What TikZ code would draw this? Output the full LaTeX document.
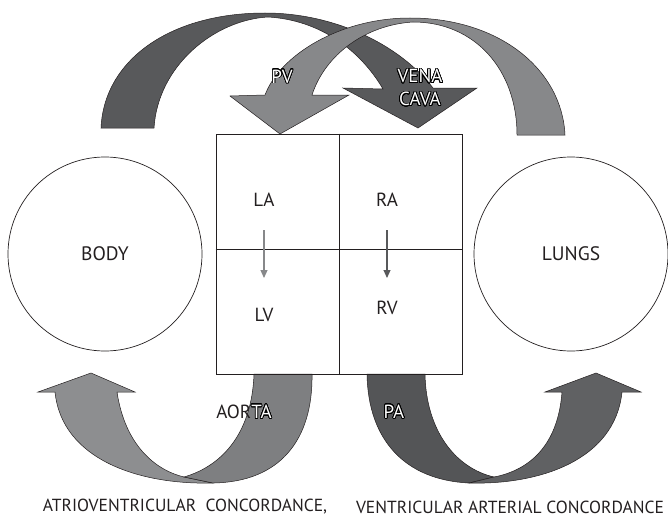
\documentclass[tikz,border=0pt]{standalone}
\usepackage{fontspec}
\setmainfont{PT Sans}
\usepackage{contour}
\contourlength{0.75pt}
\contournumber{32}
\usetikzlibrary{arrows.meta}
\definecolor{inkgrey}{RGB}{35,31,32}
\definecolor{bandDark}{RGB}{88,89,91}
\definecolor{bandLight}{RGB}{135,136,138}
\definecolor{aortaLight}{RGB}{141,142,144}
\definecolor{aortaDark}{RGB}{126,127,129}
\definecolor{paDark}{RGB}{84,85,87}
\definecolor{paLight}{RGB}{96,97,99}
\newcommand{\hollow}[1]{{\color{white}\contour{black}{#1}}}

\begin{document}
\begin{tikzpicture}[x=1pt, y=-1pt,
  organ/.style={circle, draw=inkgrey, line width=0.7pt, minimum size=194pt, text=inkgrey, font=\fontsize{19.5}{21}\selectfont},
  chamber/.style={text=inkgrey, font=\fontsize{19}{21}\selectfont},
  band/.style={draw=inkgrey, line width=0.5pt},
  vessel/.style={text=inkgrey, align=center, font=\fontsize{19}{23}\selectfont},
  flow/.style={line width=1.1pt, -{Triangle[width=7pt,length=8pt]}, shorten <=30pt, shorten >=37pt},
  caption/.style={text=inkgrey, font=\fontsize{17.5}{19}\selectfont}
]
  \useasboundingbox (0,0) rectangle (668,519);

  % venous return over the top
  \path[band, fill=bandDark]
    (101,128) .. controls (104,60) and (170,13) .. (265,13)
    .. controls (335,13) and (400,45) .. (433,88)
    -- (477,88) -- (418,128) -- (343,88) -- (383,89)
    .. controls (360,50) and (320,20) .. (268,17)
    .. controls (215,20) and (158,65) .. (154,128) -- cycle;
  \path[band, fill=bandLight]
    (565,135) .. controls (562,70) and (500,18) .. (410,18)
    .. controls (340,18) and (280,55) .. (265,95)
    -- (230,96) -- (280,134) -- (349,95) -- (312,95)
    .. controls (325,55) and (365,25) .. (413,22)
    .. controls (475,22) and (517,70) .. (517,135) -- cycle;

  % aorta, two halves of the ribbon
  \path[band, fill=aortaLight]
    (55,392) -- (38,392) -- (91,373) -- (135,392) -- (117,392)
    .. controls (125,445) and (155,470) .. (184,477)
    -- (213,483)
    .. controls (140,485) and (62,460) .. (55,392) -- cycle;
  \path[band, fill=aortaDark]
    (254,374) -- (312,374)
    .. controls (313,440) and (280,482) .. (213,483)
    -- (184,477)
    .. controls (225,465) and (252,430) .. (254,374) -- cycle;

  % pulmonary artery
  \path[band, fill=paDark]
    (367,374) -- (425,374)
    .. controls (426,430) and (455,468) .. (494,477)
    -- (469,483)
    .. controls (405,480) and (368,440) .. (367,374) -- cycle;
  \path[band, fill=paLight]
    (622,392) -- (641,392) -- (596,373) -- (545,392) -- (562,392)
    .. controls (558,445) and (530,470) .. (494,477)
    -- (469,483)
    .. controls (540,485) and (615,460) .. (622,392) -- cycle;

  \node[organ] (body) at (105,254) {BODY};
  \node[organ] (lungs) at (571,254) {LUNGS};

  % four chambers
  \node[draw=inkgrey, line width=0.7pt, minimum width=246pt, minimum height=240pt] (heart) at (339,254) {};
  \draw[inkgrey, line width=0.7pt] (heart.north) -- (heart.south);
  \draw[inkgrey, line width=0.7pt] ([yshift=-116pt]heart.north west) -- ([yshift=-116pt]heart.north east);
  \node[chamber] (la) at (264,200) {LA};
  \node[chamber] (ra) at (387,200) {RA};
  \node[chamber] (lv) at (264,315) {LV};
  \node[chamber] (rv) at (387,308) {RV};
  \draw[flow, bandLight] (la.center) -- (lv.center);
  \draw[flow, bandDark, shorten >=30pt] (ra.center) -- (rv.center);

  \node[vessel] (pv) at (282,77) {\hollow{PV}};
  \node[vessel] (vc) at (420,88) {\hollow{VENA}\\\hollow{CAVA}};
  \node[vessel] (ao) at (244,412) {AOR\hollow{TA}};
  \node[vessel] (pa) at (394,412) {\hollow{PA}};

  \node[caption] (avc) at (185,507) {ATRIOVENTRICULAR\ \ CONCORDANCE,};
  \node[caption] (vac) at (510,507) {VENTRICULAR ARTERIAL CONCORDANCE};
\end{tikzpicture}
\end{document}
